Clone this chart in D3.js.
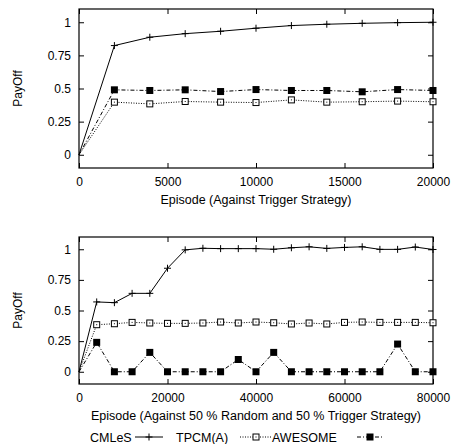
<!DOCTYPE html>
<html>
<head>
<meta charset="utf-8">
<script src="https://cdn.jsdelivr.net/npm/d3@7"></script>
<style>
  body { margin: 0; background: #fff; }
  text { font-family: "Liberation Sans", Arial, Helvetica, sans-serif; fill: #000; }
</style>
</head>
<body>
<div id="chart"></div>
<script>
// Data

// top panel: against trigger strategy
let topEpisodes = [0, 2000, 4000, 6000, 8000, 10000, 12000, 14000, 16000, 18000, 20000];
let topCMLeS   = [0, 0.824, 0.887, 0.914, 0.932, 0.955, 0.975, 0.985, 0.992, 0.997, 1.0];
let topTPCM    = [0, 0.397, 0.384, 0.402, 0.397, 0.394, 0.414, 0.397, 0.400, 0.405, 0.400];
let topAWESOME = [0, 0.490, 0.485, 0.490, 0.477, 0.492, 0.485, 0.485, 0.475, 0.492, 0.485];
let topXTicks  = [0, 5000, 10000, 15000, 20000];

// bottom panel: 50% random / 50% trigger
let botEpisodes = [0, 4000, 8000, 12000, 16000, 20000, 24000, 28000, 32000, 36000, 40000,
  44000, 48000, 52000, 56000, 60000, 64000, 68000, 72000, 76000, 80000];
let botCMLeS   = [0, 0.57, 0.564, 0.64, 0.64, 0.845, 0.995, 1.008, 1.005, 1.005, 1.005,
  1.0, 1.012, 1.02, 1.007, 1.015, 1.02, 0.999, 0.999, 1.018, 0.998];
let botTPCM    = [0, 0.384, 0.392, 0.403, 0.398, 0.395, 0.395, 0.398, 0.406, 0.398, 0.406,
  0.400, 0.390, 0.398, 0.390, 0.403, 0.406, 0.403, 0.403, 0.403, 0.400];
let botAWESOME = [0, 0.24, 0, 0, 0.158, 0, 0, 0, 0, 0.10, 0,
  0.158, 0, 0, 0, 0, 0, 0, 0.226, 0, 0];
let botXTicks  = [0, 20000, 40000, 60000, 80000];

let yTicks = [0, 0.25, 0.5, 0.75, 1];
let seriesNames = ["CMLeS", "TPCM(A)", "AWESOME"];

let width = 454;
let height = 444;

let svg = d3.select("#chart")
  .append("svg")
  .attr("width", width)
  .attr("height", height);

// line style per series
let styles = [
  { dash: null, marker: "plus" },
  { dash: "1,1.5", marker: "open" },
  { dash: "4,2,1,2", marker: "filled" }
];

function drawMarker(g, type, x, y) {
  if (type === "plus") {
    g.append("path")
      .attr("d", "M" + (x - 3.5) + "," + y + "H" + (x + 3.5) + "M" + x + "," + (y - 3.5) + "V" + (y + 3.5))
      .attr("stroke", "#000").attr("stroke-width", 1).attr("fill", "none");
  } else if (type === "open") {
    g.append("rect")
      .attr("x", x - 3).attr("y", y - 3).attr("width", 6).attr("height", 6)
      .attr("fill", "#fff").attr("stroke", "#000").attr("stroke-width", 1);
    g.append("rect")
      .attr("x", x - 0.5).attr("y", y - 0.5).attr("width", 1).attr("height", 1)
      .attr("fill", "#000");
  } else {
    g.append("rect")
      .attr("x", x - 3.5).attr("y", y - 3.5).attr("width", 7).attr("height", 7)
      .attr("fill", "#000");
  }
}

function panel(box, xs, series, xMax, xTicks, xLabel) {
  let xScale = d3.scaleLinear().domain([0, xMax]).range([box.left, box.right]);
  let yScale = d3.scaleLinear().domain([-0.1, 1.1]).range([box.bottom, box.top]);

  let g = svg.append("g");

  // axes, ticks drawn inward on all four sides
  let fmt = function(d) { return String(d); };
  g.append("g")
    .attr("transform", "translate(0," + box.bottom + ")")
    .call(d3.axisBottom(xScale).tickValues(xTicks).tickSizeInner(-5).tickSizeOuter(0).tickPadding(9).tickFormat(fmt));
  g.append("g")
    .attr("transform", "translate(0," + box.top + ")")
    .call(d3.axisTop(xScale).tickValues(xTicks).tickSizeInner(-5).tickSizeOuter(0).tickFormat(""));
  g.append("g")
    .attr("transform", "translate(" + box.left + ",0)")
    .call(d3.axisLeft(yScale).tickValues(yTicks).tickSizeInner(-5).tickSizeOuter(0).tickPadding(8).tickFormat(fmt));
  g.append("g")
    .attr("transform", "translate(" + box.right + ",0)")
    .call(d3.axisRight(yScale).tickValues(yTicks).tickSizeInner(-5).tickSizeOuter(0).tickFormat(""));

  g.selectAll(".domain").remove();
  g.selectAll(".tick line").attr("stroke", "#000");
  g.selectAll(".tick text").attr("font-size", 12).attr("fill", "#000")
    .attr("font-family", '"Liberation Sans", Arial, sans-serif');

  // frame
  g.append("rect")
    .attr("x", box.left).attr("y", box.top)
    .attr("width", box.right - box.left).attr("height", box.bottom - box.top)
    .attr("fill", "none").attr("stroke", "#000").attr("stroke-width", 1.2);

  // series
  let line = d3.line()
    .x(function(d) { return xScale(d[0]); })
    .y(function(d) { return yScale(d[1]); });

  series.forEach(function(vals, i) {
    let pts = xs.map(function(x, j) { return [x, vals[j]]; });
    g.append("path")
      .datum(pts)
      .attr("d", line)
      .attr("fill", "none")
      .attr("stroke", "#000")
      .attr("stroke-width", 1)
      .attr("stroke-dasharray", styles[i].dash);
    // no point symbol at the origin in the original
    pts.slice(1).forEach(function(p) {
      drawMarker(g, styles[i].marker, xScale(p[0]), yScale(p[1]));
    });
  });

  // labels
  g.append("text")
    .attr("x", (box.left + box.right) / 2)
    .attr("y", box.xLabelY)
    .attr("text-anchor", "middle")
    .attr("font-size", 12.5)
    .text(xLabel);

  g.append("text")
    .attr("transform", "translate(22," + ((box.top + box.bottom) / 2) + ")rotate(-90)")
    .attr("text-anchor", "middle")
    .attr("font-size", 12)
    .text("PayOff");
}

panel({ left: 79, right: 433, top: 9, bottom: 168, xLabelY: 204 },
  topEpisodes, [topCMLeS, topTPCM, topAWESOME], 20000, topXTicks,
  "Episode (Against Trigger Strategy)");

panel({ left: 79, right: 433, top: 237, bottom: 384, xLabelY: 420 },
  botEpisodes, [botCMLeS, botTPCM, botAWESOME], 80000, botXTicks,
  "Episode (Against 50 % Random and 50 % Trigger Strategy)");

// legend along the bottom
let legendY = 437;
let legendItems = [
  { textX: 90, lineX1: 135, lineX2: 163 },
  { textX: 176, lineX1: 240, lineX2: 272 },
  { textX: 272, lineX1: 357, lineX2: 383 }
];
let lg = svg.append("g");
legendItems.forEach(function(it, i) {
  lg.append("text")
    .attr("x", it.textX)
    .attr("y", legendY + 4.5)
    .attr("font-size", 12.5)
    .text(seriesNames[i]);
  lg.append("line")
    .attr("x1", it.lineX1).attr("x2", it.lineX2)
    .attr("y1", legendY).attr("y2", legendY)
    .attr("stroke", "#000").attr("stroke-width", 1)
    .attr("stroke-dasharray", styles[i].dash);
  drawMarker(lg, styles[i].marker, (it.lineX1 + it.lineX2) / 2, legendY);
});
</script>
</body>
</html>
